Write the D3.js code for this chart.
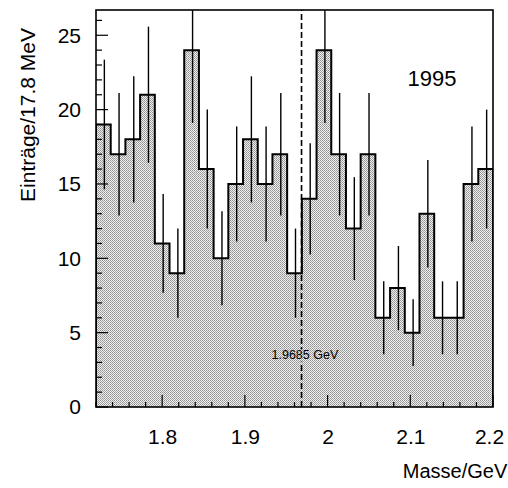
<!DOCTYPE html>
<html>
<head>
<meta charset="utf-8">
<script src="https://cdn.jsdelivr.net/npm/d3@7/dist/d3.min.js"></script>
<style>
html,body{margin:0;padding:0;background:#fff;}
svg{display:block;font-family:"Liberation Sans",Arial,Helvetica,sans-serif;}
</style>
</head>
<body>
<svg id="chart" width="508" height="488"></svg>
<script>
// ---- data ----
const binLow = 1.72;
const binHigh = 2.2;
const counts = [19,17,18,21,11,9,24,16,10,15,18,15,17,9,14,24,17,12,17,6,8,5,13,6,6,15,16];
const errors = [4.36,4.12,4.24,4.58,3.32,3.0,4.9,4.0,3.16,3.87,4.24,3.87,4.12,3.0,3.74,4.9,4.12,3.46,4.12,2.45,2.83,2.24,3.61,2.45,2.45,3.87,4.0];
const xTicks = [1.8,1.9,2.0,2.1,2.2];
const xTickLabels = ["1.8","1.9","2","2.1","2.2"];
const yTicks = [0,5,10,15,20,25];
const markerMass = 1.9685;
const markerLabel = "1.9685 GeV";
const yearLabel = "1995";
const xTitle = "Masse/GeV";
const yTitle = "Einträge/17.8 MeV";

// ---- layout ----
const W = 508, H = 488;
const m = {left:96, right:15, top:10, bottom:81};
const svg = d3.select("#chart");
const x = d3.scaleLinear().domain([binLow, binHigh]).range([m.left, W - m.right]);
const y = d3.scaleLinear().domain([0, 26.7]).range([H - m.bottom, m.top]);
const nb = counts.length;
const bw = (binHigh - binLow) / nb;

// stipple pattern
const defs = svg.append("defs");
const pat = defs.append("pattern").attr("id","stip").attr("width",2).attr("height",2)
  .attr("patternUnits","userSpaceOnUse");
pat.append("rect").attr("width",2).attr("height",2).attr("fill","#f0f0f0");
pat.append("rect").attr("x",0).attr("y",0).attr("width",1).attr("height",1).attr("fill","#909090");
pat.append("rect").attr("x",1).attr("y",1).attr("width",1).attr("height",1).attr("fill","#a4a4a4");
defs.append("clipPath").attr("id","plotclip").append("rect")
  .attr("x",m.left).attr("y",m.top).attr("width",W-m.left-m.right).attr("height",H-m.top-m.bottom);

// histogram step path
const pts = [];
pts.push([binLow, 0]);
counts.forEach((c,i)=>{ pts.push([binLow+i*bw, c]); pts.push([binLow+(i+1)*bw, c]); });
pts.push([binHigh, 0]);
const line = d3.line().x(d=>x(d[0])).y(d=>y(d[1]));
const g = svg.append("g").attr("clip-path","url(#plotclip)");
g.append("path").attr("d", line(pts) + "Z").attr("fill","url(#stip)").attr("stroke","none");

// dashed marker line
g.append("line").attr("x1",x(markerMass)).attr("x2",x(markerMass))
  .attr("y1",y(0)).attr("y2",m.top).attr("stroke","#000").attr("stroke-width",1.6)
  .attr("stroke-dasharray","6,3");

// marker label with stipple background
const lbl = svg.append("text").attr("x",x(markerMass)-30).attr("y",y(3.2))
  .attr("font-size",12.5).attr("fill","#000").text(markerLabel);
const bb = lbl.node().getBBox();
svg.insert("rect","text").attr("x",bb.x-1).attr("y",bb.y+1).attr("width",bb.width+2).attr("height",bb.height-2)
  .attr("fill","url(#stip)");

// histogram outline
g.append("path").attr("d", line(pts)).attr("fill","none").attr("stroke","#000").attr("stroke-width",2);

// error bars
g.selectAll("line.err").data(counts).enter().append("line").attr("class","err")
  .attr("x1",(d,i)=>x(binLow+(i+0.5)*bw)+1).attr("x2",(d,i)=>x(binLow+(i+0.5)*bw)+1)
  .attr("y1",(d,i)=>y(d-errors[i])).attr("y2",(d,i)=>y(d+errors[i]))
  .attr("stroke","#000").attr("stroke-width",1.4);

// ticks
const tg = svg.append("g").attr("stroke","#000").attr("stroke-width",1.2);
d3.range(0, 27).forEach(v=>{
  const len = (v % 5 === 0) ? 12 : 6;
  tg.append("line").attr("x1",m.left).attr("x2",m.left+len).attr("y1",y(v)).attr("y2",y(v));
});
d3.range(0, 25).forEach(k=>{
  const v = binLow + k*0.02;
  if (v > binHigh + 1e-9) return;
  const major = Math.abs(Math.round(v*10) - v*10) < 1e-6;
  const len = major ? 12 : 5;
  tg.append("line").attr("x1",x(v)).attr("x2",x(v)).attr("y1",y(0)).attr("y2",y(0)-len);
});

// frame
svg.append("rect").attr("x",m.left).attr("y",m.top).attr("width",W-m.left-m.right).attr("height",H-m.top-m.bottom)
  .attr("fill","none").attr("stroke","#000").attr("stroke-width",1.6);

// axis labels
const axX = d3.axisBottom(x).tickValues(xTicks).tickFormat((d,i)=>xTickLabels[i]).tickSize(0).tickPadding(0);
const gx = svg.append("g").attr("transform",`translate(0,${y(0)})`).call(axX);
gx.select(".domain").remove();
gx.selectAll("text").attr("font-size",21).attr("font-family","Liberation Sans, Arial, sans-serif")
  .attr("fill","#000").attr("dy",null).attr("y",37);
gx.selectAll(".tick").filter(d=>d===2.2).select("text").attr("x",-4);

const axY = d3.axisLeft(y).tickValues(yTicks).tickSize(0).tickPadding(0);
const gy = svg.append("g").attr("transform",`translate(${m.left},0)`).call(axY);
gy.select(".domain").remove();
gy.selectAll("text").attr("font-size",21).attr("font-family","Liberation Sans, Arial, sans-serif")
  .attr("fill","#000").attr("x",-15);

svg.append("text").attr("x",432).attr("y",86).attr("font-size",22).attr("text-anchor","middle").text(yearLabel);
svg.append("text").attr("x",455).attr("y",478).attr("font-size",20).attr("text-anchor","middle").text(xTitle);
svg.append("text").attr("transform","translate(35,115) rotate(-90)").attr("font-size",21)
  .attr("text-anchor","middle").text(yTitle);
</script>
</body>
</html>
